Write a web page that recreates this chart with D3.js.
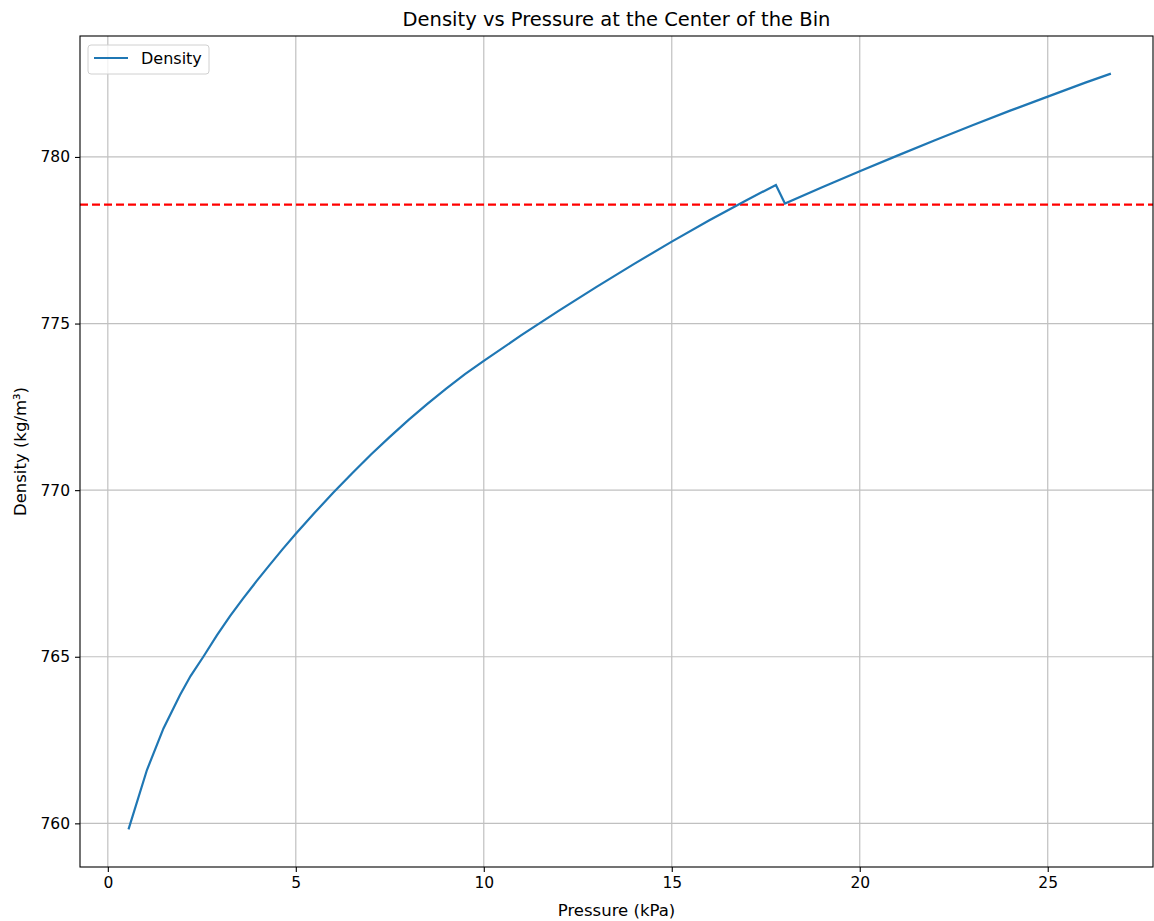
<!DOCTYPE html>
<html>
<head>
<meta charset="utf-8">
<script src="https://cdn.jsdelivr.net/npm/d3@7"></script>
<style>
  body { margin: 0; background: #fff; }
  text { font-family: "DejaVu Sans", sans-serif; fill: #000; }
</style>
</head>
<body>
<svg id="chart"></svg>
<script>
// Chart size
const svgWidth = 1154;
const svgHeight = 921;
const margin = { top: 36, right: 1, bottom: 54, left: 80 };

// Data
const pressure = [0.55, 1.04, 1.48, 1.92, 2.2, 2.54, 2.9, 3.25, 3.6, 3.95, 4.3, 4.65, 5.0,
  5.5, 6.0, 6.5, 7.0, 7.5, 8.0, 8.5, 9.0, 9.5, 10.0, 11.0, 12.0, 13.0, 14.0, 15.0, 16.0,
  17.0, 17.77, 18.01, 19.0, 20.0, 21.0, 22.0, 23.0, 24.0, 25.0, 26.0, 26.68];
const density = [759.82, 761.6, 762.85, 763.85, 764.42, 765.0, 765.64, 766.22, 766.75, 767.26,
  767.75, 768.23, 768.69, 769.32, 769.93, 770.51, 771.07, 771.6, 772.11, 772.59, 773.05,
  773.48, 773.88, 774.65, 775.39, 776.1, 776.79, 777.46, 778.1, 778.71, 779.16, 778.6,
  779.09, 779.57, 780.04, 780.5, 780.95, 781.39, 781.81, 782.23, 782.5];
const referenceDensity = 778.57;
const xTicks = [0, 5, 10, 15, 20, 25];
const yTicks = [760, 765, 770, 775, 780];

const width = svgWidth - margin.left - margin.right;
const height = svgHeight - margin.top - margin.bottom;

const svg = d3.select('#chart')
  .attr('width', svgWidth)
  .attr('height', svgHeight);

const g = svg.append('g')
  .attr('transform', `translate(${margin.left},${margin.top})`);

// Scales
const x = d3.scaleLinear().domain([-0.74, 27.8]).range([0, width]);
const y = d3.scaleLinear().domain([758.69, 783.63]).range([height, 0]);

// Grid
g.append('g')
  .selectAll('line')
  .data(xTicks)
  .enter().append('line')
  .attr('x1', d => x(d)).attr('x2', d => x(d))
  .attr('y1', 0).attr('y2', height)
  .style('stroke', '#c0c0c0')
  .style('stroke-width', 1.2);

g.append('g')
  .selectAll('line')
  .data(yTicks)
  .enter().append('line')
  .attr('x1', 0).attr('x2', width)
  .attr('y1', d => y(d)).attr('y2', d => y(d))
  .style('stroke', '#c0c0c0')
  .style('stroke-width', 1.2);

// Axes
const xAxis = d3.axisBottom(x).tickValues(xTicks).tickSize(5).tickPadding(5).tickFormat(d3.format('d'));
const yAxis = d3.axisLeft(y).tickValues(yTicks).tickSize(5).tickPadding(5).tickFormat(d3.format('d'));

g.append('g')
  .attr('transform', `translate(0,${height})`)
  .call(xAxis)
  .call(a => a.select('.domain').remove())
  .selectAll('text').style('font-size', '15.5px');

g.append('g')
  .call(yAxis)
  .call(a => a.select('.domain').remove())
  .selectAll('text').style('font-size', '15.5px');

g.selectAll('.tick line').style('stroke', '#000').style('stroke-width', 1.1);

// Reference line (dashed red)
g.append('line')
  .attr('x1', 0).attr('x2', width)
  .attr('y1', y(referenceDensity)).attr('y2', y(referenceDensity))
  .style('stroke', 'red')
  .style('stroke-width', 2.1)
  .style('stroke-dasharray', '8,4');

// Density line
const points = pressure.map((p, i) => [p, density[i]]);
const line = d3.line().x(d => x(d[0])).y(d => y(d[1]));

g.append('path')
  .datum(points)
  .attr('d', line)
  .style('fill', 'none')
  .style('stroke', '#1f77b4')
  .style('stroke-width', 2.2);

// Frame
g.append('rect')
  .attr('width', width)
  .attr('height', height)
  .style('fill', 'none')
  .style('stroke', '#000')
  .style('stroke-width', 1.1);

// Legend
const legend = g.append('g').attr('transform', 'translate(8,9)');
legend.append('rect')
  .attr('width', 121).attr('height', 29)
  .attr('rx', 3)
  .style('fill', 'rgba(255,255,255,0.8)')
  .style('stroke', '#d0d0d0');
legend.append('line')
  .attr('x1', 6).attr('x2', 40)
  .attr('y1', 13).attr('y2', 13)
  .style('stroke', '#1f77b4')
  .style('stroke-width', 2.2);
legend.append('text')
  .attr('x', 53).attr('y', 19)
  .style('font-size', '16px')
  .text('Density');

// Titles
svg.append('text')
  .attr('x', margin.left + width / 2)
  .attr('y', 26)
  .attr('text-anchor', 'middle')
  .style('font-size', '19.5px')
  .text('Density vs Pressure at the Center of the Bin');

svg.append('text')
  .attr('x', margin.left + width / 2)
  .attr('y', 916)
  .attr('text-anchor', 'middle')
  .style('font-size', '16.5px')
  .text('Pressure (kPa)');

svg.append('text')
  .attr('transform', `translate(26,${margin.top + height / 2}) rotate(-90)`)
  .attr('text-anchor', 'middle')
  .style('font-size', '16.5px')
  .text('Density (kg/m³)');
</script>
</body>
</html>
